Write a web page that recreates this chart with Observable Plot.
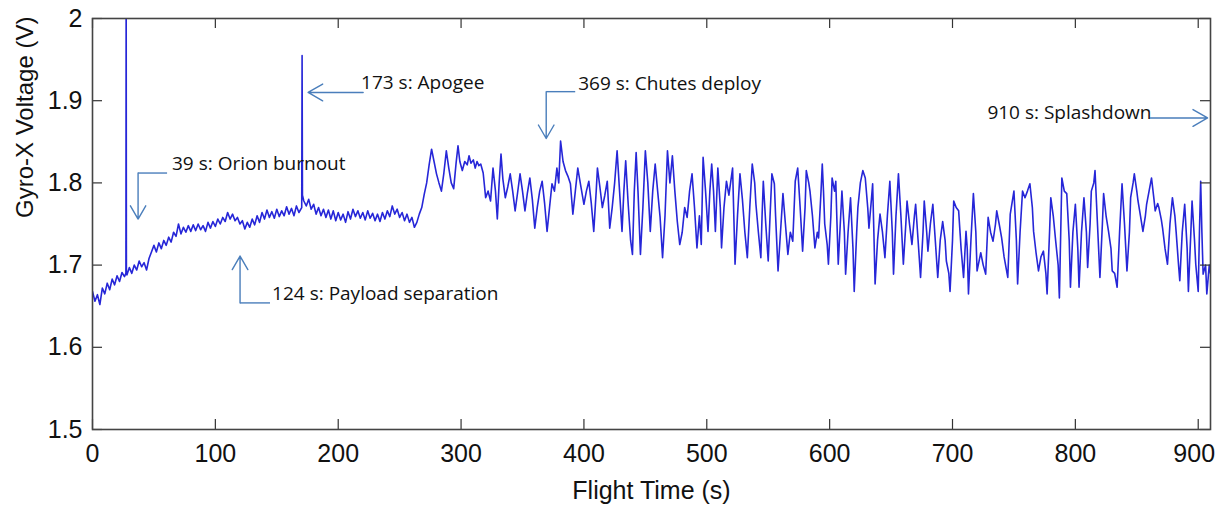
<!DOCTYPE html>
<html><head><meta charset="utf-8">
<script src="https://cdn.jsdelivr.net/npm/d3@7"></script>
<script src="https://cdn.jsdelivr.net/npm/@observablehq/plot@0.6"></script>
<style>html,body{margin:0;padding:0;background:#fff}</style>
</head><body><div id="chart"></div>
<script>
// ---- data ----
const flightTime = [
0,2,4,6,8,10,12,14,16,18,20,22,24,26,27.2,27.4,27.6,28,30,32,34,36,38,40,42,44,46,48,50,52,54,56,58,60,62,64,66,68,70,72,74,76,78,80,82,84,86,88,90,92,94,96,98,100,
102,104,106,108,110,112,114,116,118,120,122,124,126,128,130,132,134,136,138,140,142,144,146,148,150,152,154,156,158,160,162,164,166,168,170.3,170.6,170.9,172,174,176,178,180,
182,184,186,188,190,192,194,196,198,200,202,204,206,208,210,212,214,216,218,220,222,224,226,228,230,232,234,236,238,240,242,244,246,248,250,252,254,256,258,260,262,264,266,268,
270,272,274,276,278,280,282,284,286,288,290,292,294,296,297.5,299,301,303,305,306.5,308,310,311.5,313,314.5,316,318,320,322,324,326,328,329.5,331,332.5,334,336,338,340,342,344,346,348,350,
352,354,356,358,360,362,364,366,368,370,372,374,376,378,379.5,381,383,385,387,389,391,393,395,397,400,402,404,406,408,410,411,413,415,417,419,421,423,425,427,429,431,432.5,434,436,438,439.5,441,442.5,444,446,448,450,
452,454,456,458,460,462,464,466,468,470,472,474,476,478,480,482,484,486,488,490,492,494,495.5,497,499,501,502.5,504,505.5,507,508,509,511,512,514,516,518,521,522,523,525,527,529,531,533,535,537,539,540,542,544,545,546,548,550,
551.5,553,555,556,558,560,562,564,566,568,570,572,574,576,578,580,581,583,584,586,588,590,591,593,594,595,596,598,599,601,602,604,605,606,607,609,610,612,613,615,617,619,620,622,623,625,627,629,631,632,634,635,636,637,639,641,643,645,647,649,651,652,654,656,658,660,
662,663,665,667,669,670,672,674,676,677,679,680,682,684,686,688,690,692,694,695,697,698,700,701,703,705,707,709,711,712,713,715,717,719,720,723,725,727,729,731,733,735,736,738,740,742,745,747,750,752,753,755,757,759,761,763,765,766,768,770,
772,774,776,777,779,780,782,784,786,787,789,791,793,795,796,798,800,802,803,805,807,809,810,812,813,815,816,818,820,822,823,825,827,829,830,832,834,836,838,840,842,844,845,847,848,850,851,853,855,857,858,860,862,864,865,867,868,870,
871,873,875,877,879,881,882,884,885,887,889,891,892,894,895,897,898,900,901,902,903,904,906,907,909,910
];
const gyroVoltage = [
1.668,1.656,1.664,1.652,1.672,1.665,1.678,1.670,1.683,1.676,1.687,1.680,1.691,1.686,1.690,2.05,1.692,1.688,1.697,1.690,1.700,1.694,1.705,1.698,1.703,1.694,1.708,1.716,1.724,1.716,1.727,1.720,1.730,1.724,1.734,1.728,1.740,1.735,1.750,1.738,1.746,1.740,1.748,1.741,1.749,1.742,1.750,1.743,1.748,1.741,1.752,1.745,1.753,1.747,
1.756,1.750,1.758,1.753,1.764,1.756,1.762,1.754,1.758,1.750,1.754,1.744,1.752,1.746,1.756,1.749,1.760,1.752,1.764,1.756,1.767,1.758,1.765,1.757,1.768,1.759,1.766,1.760,1.771,1.762,1.769,1.760,1.772,1.764,1.770,1.955,1.785,1.778,1.772,1.780,1.768,1.774,
1.762,1.770,1.760,1.768,1.758,1.767,1.756,1.766,1.754,1.764,1.755,1.762,1.752,1.765,1.756,1.768,1.759,1.766,1.757,1.764,1.755,1.766,1.757,1.763,1.754,1.762,1.753,1.764,1.756,1.766,1.759,1.772,1.762,1.768,1.758,1.764,1.754,1.762,1.752,1.758,1.746,1.752,1.762,1.770,
1.786,1.800,1.822,1.841,1.826,1.811,1.800,1.790,1.812,1.839,1.818,1.800,1.793,1.825,1.845,1.826,1.815,1.826,1.822,1.833,1.824,1.828,1.818,1.826,1.821,1.823,1.812,1.782,1.790,1.778,1.818,1.790,1.756,1.800,1.835,1.805,1.782,1.795,1.811,1.790,1.766,1.788,1.811,1.790,
1.766,1.788,1.806,1.780,1.745,1.770,1.790,1.802,1.775,1.741,1.770,1.799,1.790,1.818,1.800,1.851,1.826,1.815,1.808,1.799,1.762,1.790,1.818,1.800,1.774,1.790,1.802,1.775,1.741,1.790,1.818,1.795,1.770,1.785,1.802,1.745,1.770,1.800,1.839,1.790,1.741,1.790,1.827,1.775,1.730,1.713,1.790,1.837,1.790,1.713,1.770,1.839,
1.800,1.741,1.790,1.823,1.790,1.758,1.709,1.760,1.839,1.800,1.833,1.790,1.753,1.725,1.740,1.770,1.758,1.790,1.811,1.770,1.721,1.760,1.725,1.831,1.790,1.741,1.790,1.823,1.790,1.741,1.780,1.818,1.770,1.721,1.770,1.802,1.785,1.818,1.760,1.701,1.760,1.811,1.780,1.740,1.709,1.770,1.823,1.800,1.774,1.740,1.709,1.760,1.802,1.750,1.705,
1.760,1.811,1.799,1.760,1.693,1.740,1.787,1.750,1.713,1.740,1.729,1.802,1.818,1.770,1.717,1.770,1.815,1.800,1.790,1.760,1.721,1.740,1.733,1.790,1.823,1.790,1.750,1.725,1.701,1.760,1.806,1.790,1.802,1.750,1.701,1.760,1.790,1.740,1.689,1.740,1.782,1.720,1.668,1.740,1.770,1.800,1.815,1.806,1.770,1.745,1.780,1.799,1.740,1.677,1.730,1.762,1.740,1.709,1.760,1.802,1.740,1.689,1.760,1.811,1.760,1.701,
1.750,1.778,1.750,1.725,1.760,1.774,1.730,1.685,1.740,1.778,1.740,1.717,1.750,1.774,1.730,1.685,1.730,1.753,1.730,1.705,1.690,1.668,1.730,1.778,1.770,1.766,1.720,1.685,1.741,1.720,1.665,1.730,1.787,1.740,1.693,1.715,1.700,1.689,1.758,1.740,1.729,1.750,1.766,1.750,1.733,1.710,1.685,1.762,1.790,1.730,1.677,1.740,1.790,1.782,1.790,1.799,1.770,1.741,1.715,1.693,
1.710,1.717,1.690,1.665,1.740,1.782,1.760,1.729,1.700,1.660,1.806,1.790,1.787,1.730,1.673,1.740,1.774,1.720,1.673,1.740,1.782,1.740,1.697,1.750,1.790,1.800,1.815,1.750,1.685,1.750,1.787,1.760,1.741,1.720,1.693,1.690,1.673,1.740,1.799,1.750,1.693,1.740,1.782,1.800,1.811,1.790,1.778,1.760,1.741,1.760,1.774,1.790,1.806,1.780,1.766,1.775,1.770,1.755,
1.745,1.720,1.701,1.750,1.782,1.760,1.741,1.700,1.681,1.740,1.774,1.720,1.668,1.740,1.778,1.730,1.701,1.668,1.740,1.802,1.740,1.689,1.700,1.665,1.700,1.690
];
const xTickValues = [0,100,200,300,400,500,600,700,800,900];
const yTickValues = [1.5,1.6,1.7,1.8,1.9,2];
const yTickLabels = ["1.5","1.6","1.7","1.8","1.9","2"];
const eventLabels = ["39 s: Orion burnout","124 s: Payload separation","173 s: Apogee","369 s: Chutes deploy","910 s: Splashdown"];

// ---- callout geometry (data units) ----
const calloutText  = [[64.7,1.823],[146.2,1.665],[218.6,1.922],[395.3,1.921],[728.4,1.885]];
const calloutStart = [[60.7,1.812],[144.5,1.654],[220.3,1.910],[392.9,1.911],[861.2,1.879]];
const calloutElbow = [[37.1,1.812],[120.1,1.654],null,[369.3,1.911],null];
const calloutTip   = [[37.1,1.756],[120.1,1.711],[175.5,1.910],[369.3,1.854],[907.6,1.879]];

const series = flightTime.map((t, i) => ({t, v: gyroVoltage[i]}));
const callouts = eventLabels.map((label, i) => ({
  label, text: calloutText[i], start: calloutStart[i], elbow: calloutElbow[i], tip: calloutTip[i]
}));
const links = callouts.filter(d => d.elbow);

const W = 1216, H = 505, mL = 92, mR = 6, mT = 18, mB = 76;
const innerW = W - mL - mR, innerH = H - mT - mB, tick = 10;
const arrowColor = "#4a7ebb";
const lastTick = xTickValues[xTickValues.length - 1];

const chart = Plot.plot({
  width: W, height: H,
  marginLeft: mL, marginRight: mR, marginTop: mT, marginBottom: mB,
  x: {domain: [0, 910]},
  y: {domain: [1.5, 2]},
  style: {fontFamily: "'Liberation Sans', Arial, sans-serif", background: "#fff", color: "#111"},
  marks: [
    Plot.line(series, {x: "t", y: "v", stroke: "#2626d8", strokeWidth: 1.6, clip: true}),
    // callouts
    Plot.link(links, {x1: d => d.start[0], y1: d => d.start[1], x2: d => d.elbow[0], y2: d => d.elbow[1], stroke: arrowColor, strokeWidth: 1.4}),
    Plot.arrow(callouts, {
      x1: d => (d.elbow || d.start)[0], y1: d => (d.elbow || d.start)[1],
      x2: d => d.tip[0], y2: d => d.tip[1],
      stroke: arrowColor, strokeWidth: 1.4, headLength: 18, headAngle: 60, bend: 0
    }),
    Plot.text(callouts, {x: d => d.text[0], y: d => d.text[1], text: "label", textAnchor: "start", lineAnchor: "middle",
      fontFamily: "'Open Sans', sans-serif", fontSize: 19, fill: "#111"}),
    // inward ticks on all four sides (MATLAB box style)
    Plot.ruleX(xTickValues, {x: d => d, insetTop: innerH - tick, stroke: "#333", strokeWidth: 1.2}),
    Plot.ruleX(xTickValues, {x: d => d, insetBottom: innerH - tick, stroke: "#333", strokeWidth: 1.2}),
    Plot.ruleY(yTickValues, {y: d => d, insetRight: innerW - tick, stroke: "#333", strokeWidth: 1.2}),
    Plot.ruleY(yTickValues, {y: d => d, insetLeft: innerW - tick, stroke: "#333", strokeWidth: 1.2}),
    Plot.frame({stroke: "#444", strokeWidth: 1.6}),
    Plot.axisX(xTickValues.filter(d => d !== lastTick), {tickSize: 0, tickPadding: 15, fontSize: 25, label: null, tickFormat: d => String(d)}),
    Plot.axisX([lastTick], {tickSize: 0, tickPadding: 15, fontSize: 25, label: null, dx: -4, tickFormat: d => String(d)}),
    Plot.axisY(yTickValues, {tickSize: 0, tickPadding: 10, fontSize: 25, label: null, tickFormat: (d) => yTickLabels[yTickValues.indexOf(d)]}),
    Plot.text(["Flight Time (s)"], {frameAnchor: "bottom", dy: 61, text: d => d, fontSize: 25, lineAnchor: "middle", fill: "#111"}),
    Plot.text(["Gyro-X Voltage (V)"], {frameAnchor: "left", dx: -67, dy: -6, rotate: -90, text: d => d, fontSize: 24, lineAnchor: "middle", fill: "#111"})
  ]
});
document.getElementById("chart").appendChild(chart);
</script>
</body></html>
